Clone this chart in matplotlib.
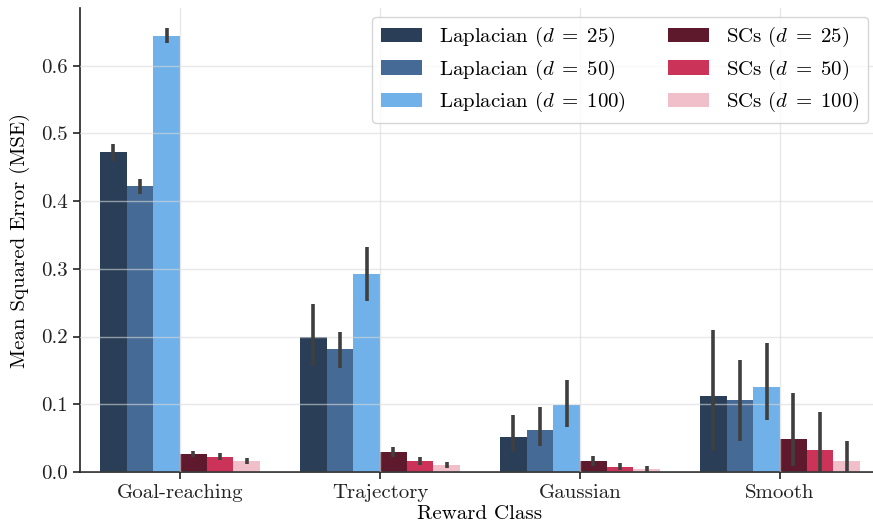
import matplotlib
matplotlib.use("Agg")
import matplotlib.pyplot as plt
import numpy as np

plt.rcParams['font.family'] = 'serif'
plt.rcParams['font.serif'] = ['cmr10', 'DejaVu Serif']
plt.rcParams['mathtext.fontset'] = 'cm'
plt.rcParams['axes.formatter.use_mathtext'] = True
plt.rcParams['axes.unicode_minus'] = False

categories = ["Goal-reaching", "Trajectory", "Gaussian", "Smooth"]
series = ["Laplacian ($d\\;=\\;25$)", "Laplacian ($d\\;=\\;50$)", "Laplacian ($d\\;=\\;100$)",
          "SCs ($d\\;=\\;25$)", "SCs ($d\\;=\\;50$)", "SCs ($d\\;=\\;100$)"]
colors = ["#2a3f57", "#466a96", "#6fb1e8", "#5e1a2c", "#cc3358", "#f0bfca"]

# mean values per series for each category
lap25 = [0.472, 0.199, 0.052, 0.112]
lap50 = [0.422, 0.181, 0.062, 0.106]
lap100 = [0.643, 0.293, 0.099, 0.125]
sc25 = [0.0265, 0.029, 0.016, 0.048]
sc50 = [0.022, 0.016, 0.007, 0.032]
sc100 = [0.016, 0.010, 0.004, 0.016]

# error bar lows / highs
lap25_lo = [0.459, 0.156, 0.030, 0.031]
lap25_hi = [0.484, 0.248, 0.084, 0.209]
lap50_lo = [0.411, 0.153, 0.038, 0.046]
lap50_hi = [0.432, 0.206, 0.096, 0.165]
lap100_lo = [0.633, 0.252, 0.066, 0.077]
lap100_hi = [0.655, 0.332, 0.136, 0.191]
sc25_lo = [0.022, 0.022, 0.009, 0.009]
sc25_hi = [0.031, 0.037, 0.023, 0.117]
sc50_lo = [0.018, 0.010, 0.003, 0.000]
sc50_hi = [0.028, 0.022, 0.013, 0.088]
sc100_lo = [0.012, 0.006, 0.000, 0.000]
sc100_hi = [0.021, 0.015, 0.009, 0.046]

means = [lap25, lap50, lap100, sc25, sc50, sc100]
lows = [lap25_lo, lap50_lo, lap100_lo, sc25_lo, sc50_lo, sc100_lo]
highs = [lap25_hi, lap50_hi, lap100_hi, sc25_hi, sc50_hi, sc100_hi]

W, H = 873, 529
fig = plt.figure(figsize=(W / 100, H / 100), dpi=100)
ax = fig.add_axes([80 / W, 1 - 472 / H, 800 / W, 464 / H])

fs = 15
x = np.arange(len(categories))
n = len(series)
total = 0.8
bw = total / n
for i in range(n):
    pos = x - total / 2 + bw * (i + 0.5)
    ax.bar(pos, means[i], width=bw, color=colors[i], label=series[i], zorder=1, linewidth=0)
    ax.vlines(pos, lows[i], highs[i], color="#3f3f3f", linewidth=2.6, zorder=3)

ax.set_xlim(-0.5, 3.5)
ax.set_ylim(0, 0.685)
ax.set_xticks(x)
ax.set_xticklabels(categories, fontsize=fs)
ax.set_yticks([0.0, 0.1, 0.2, 0.3, 0.4, 0.5, 0.6])
ax.set_yticklabels(["0.0", "0.1", "0.2", "0.3", "0.4", "0.5", "0.6"], fontsize=fs)
ax.grid(True, color="#d9d9d9", alpha=0.6, linewidth=1.0, zorder=2)
ax.set_axisbelow(False)
for s in ["top", "right"]:
    ax.spines[s].set_visible(False)
for s in ["left", "bottom"]:
    ax.spines[s].set_color("#222222")
    ax.spines[s].set_linewidth(1.2)
ax.tick_params(axis="both", colors="#222222", length=5, width=1.2, labelcolor="#222222")
ax.set_xlabel("Reward Class", fontsize=fs, labelpad=2)
ax.set_ylabel("Mean Squared Error (MSE)", fontsize=fs, labelpad=8)

leg = ax.legend(ncol=2, fontsize=fs, loc="upper right",
                bbox_to_anchor=(868 / W, 1 - 17 / H), bbox_transform=fig.transFigure,
                borderaxespad=0, frameon=True, fancybox=True, edgecolor="#cccccc",
                columnspacing=2.0, handlelength=2.0, labelspacing=0.4)
leg.get_frame().set_linewidth(1.0)

fig.savefig("out.png", dpi=100)
